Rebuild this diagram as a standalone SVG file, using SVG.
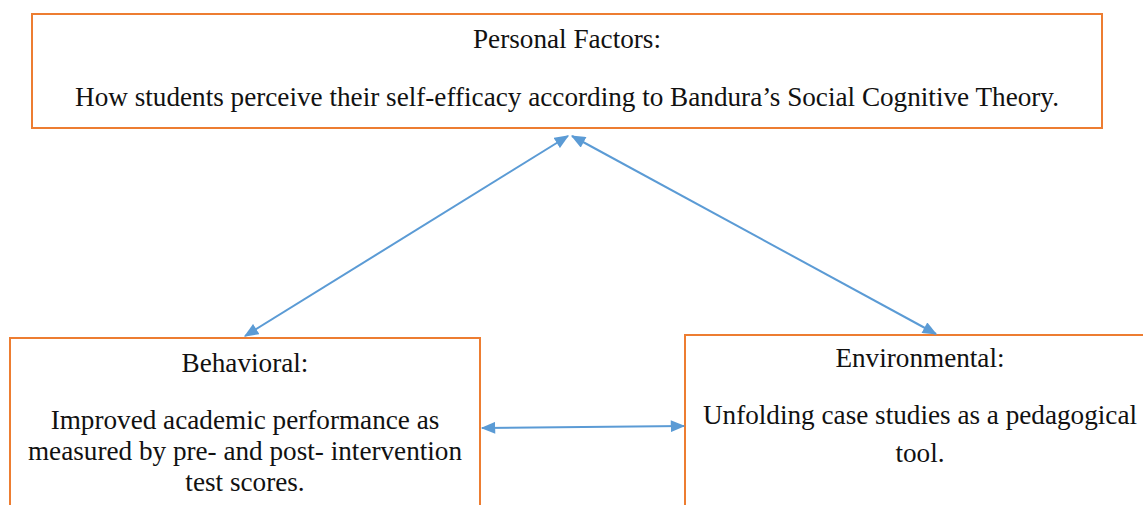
<svg xmlns="http://www.w3.org/2000/svg" width="1143" height="505" viewBox="0 0 1143 505">
  <style>
    .box { fill: #ffffff; stroke: #ed7d31; stroke-width: 2; }
    .lbl { font-family: 'Liberation Serif', serif; font-size: 27.2px; fill: #111111; text-anchor: middle; }
    .link { stroke: #5b9bd5; stroke-width: 2; fill: none; marker-start: url(#head); marker-end: url(#head); }
  </style>
  <defs>
    <marker id="head" viewBox="0 0 12 10" refX="11" refY="5" markerWidth="15" markerHeight="12" markerUnits="userSpaceOnUse" orient="auto-start-reverse">
      <path d="M0,0 L12,5 L0,10 Z" fill="#5b9bd5"/>
    </marker>
  </defs>
  <rect width="1143" height="505" fill="#ffffff"/>

  <g id="personal">
    <rect class="box" x="32" y="14" width="1070" height="114"/>
    <text class="lbl" x="567" y="48">Personal Factors:</text>
    <text class="lbl" x="567" y="106">How students perceive their self-efficacy according to Bandura’s Social Cognitive Theory.</text>
  </g>

  <g id="behavioral">
    <rect class="box" x="10" y="338" width="470" height="180"/>
    <text class="lbl" x="245" y="372">Behavioral:</text>
    <text class="lbl" x="245" y="429">Improved academic performance as</text>
    <text class="lbl" x="245" y="460">measured by pre- and post- intervention</text>
    <text class="lbl" x="245" y="491">test scores.</text>
  </g>

  <g id="environmental">
    <rect class="box" x="685" y="335" width="470" height="180"/>
    <text class="lbl" x="920" y="367">Environmental:</text>
    <text class="lbl" x="920" y="424">Unfolding case studies as a pedagogical</text>
    <text class="lbl" x="920" y="462">tool.</text>
  </g>

  <g id="connectors">
    <line class="link" x1="245" y1="336" x2="568" y2="136"/>
    <line class="link" x1="572" y1="136" x2="936" y2="334"/>
    <line class="link" x1="482" y1="428" x2="684" y2="426"/>
  </g>
</svg>
